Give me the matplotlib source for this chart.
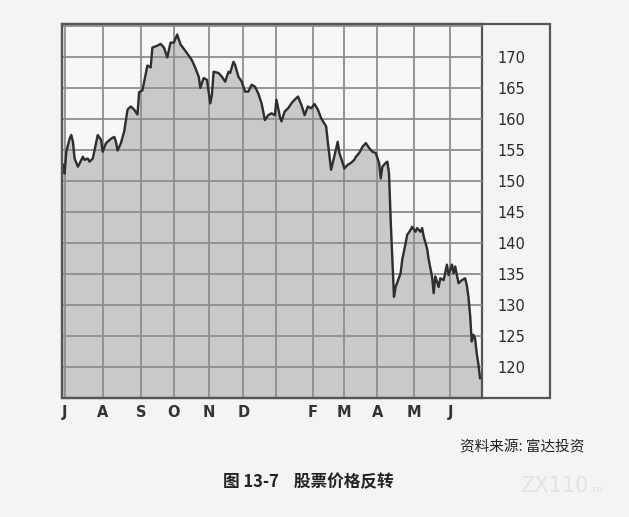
import matplotlib
matplotlib.use('Agg')
import matplotlib.pyplot as plt
from matplotlib.patches import Rectangle

plt.rcParams['font.family'] = ['Noto Sans CJK SC', 'DejaVu Sans']

# trading day index and closing price
days = [0, 1, 2, 4, 5, 6, 7, 9, 10, 12, 13, 15, 16, 18, 20, 21, 23, 24, 26, 29,
        31, 32, 33, 35, 37, 39, 41, 43, 45, 46, 48, 50, 51, 53, 54, 57, 59, 61, 63, 65,
        67, 69, 71, 73, 76, 78, 80, 82, 83, 85, 87, 88, 89, 90, 91, 94, 96, 98, 100, 101,
        103, 104, 106, 108, 110, 112, 114, 116, 118, 120, 122, 124, 126, 128, 129, 131, 132, 134, 136, 138,
        140, 142, 144, 146, 148, 150, 152, 154, 156, 159, 160, 162, 163, 164, 166, 167, 169, 170, 172, 174,
        176, 177, 179, 181, 183, 185, 187, 189, 191, 192, 193, 195, 196, 197, 198, 199, 200, 201, 204, 205,
        207, 208, 210, 211, 213, 214, 216, 217, 218, 220, 221, 223, 224, 225, 227, 228, 230, 232, 233, 235,
        236, 237, 239, 241, 243, 244, 245, 246, 247, 248, 249, 250, 251, 252]
prices = [152.6, 151.2, 154.7, 156.8, 157.4, 156.3, 153.6, 152.3, 152.8, 153.9, 153.4, 153.6, 153.1, 153.6, 156.1, 157.4, 156.6, 154.7, 156.1, 156.8,
          157.1, 156.3, 154.9, 156.1, 158.0, 161.5, 162.0, 161.5, 160.7, 164.3, 164.6, 167.3, 168.6, 168.3, 171.5, 171.8, 172.1, 171.5, 169.9, 172.3,
          172.3, 173.6, 172.0, 171.3, 170.2, 169.4, 168.2, 166.8, 165.0, 166.6, 166.3, 164.4, 162.5, 163.9, 167.6, 167.4, 166.8, 166.0, 167.6, 167.4,
          169.2, 168.7, 166.8, 166.0, 164.4, 164.4, 165.5, 165.2, 164.1, 162.5, 159.8, 160.6, 160.9, 160.6, 163.1, 160.4, 159.6, 161.2, 161.7, 162.5,
          163.1, 163.6, 162.3, 160.6, 162.0, 161.7, 162.4, 161.5, 160.1, 158.8, 156.3, 151.8, 152.9, 154.0, 156.3, 154.5, 152.9, 152.0, 152.6, 152.9,
          153.4, 153.9, 154.5, 155.5, 156.1, 155.3, 154.7, 154.5, 152.9, 150.4, 152.3, 152.9, 153.1, 151.2, 143.7, 137.3, 131.3, 132.9, 135.1, 137.3,
          139.9, 141.3, 142.1, 142.6, 141.8, 142.4, 141.8, 142.4, 141.0, 139.1, 137.3, 134.6, 131.9, 134.6, 132.9, 134.3, 134.0, 136.5, 134.8, 136.5,
          135.1, 136.2, 133.5, 134.0, 134.3, 133.2, 131.3, 128.4, 124.1, 125.2, 124.6, 122.2, 120.5, 118.2]

month_starts = [1, 24, 47, 67, 88, 109, 129, 151, 170, 190, 212, 234]
month_labels = ['J', 'A', 'S', 'O', 'N', 'D', '', 'F', 'M', 'A', 'M', 'J']
price_ticks = [120, 125, 130, 135, 140, 145, 150, 155, 160, 165, 170]

paper = '#f4f4f2'
W, H = 629, 517
fig = plt.figure(figsize=(W / 100, H / 100), dpi=100, facecolor=paper)

# plot box in pixels: x 62..482, y 24..398
ax = fig.add_axes([62 / W, 1 - 398 / H, 420 / W, 374 / H])
ax.set_facecolor('#f7f7f6')
ax.fill_between(days, prices, 100, color='#c9c9c9', zorder=1)
ax.plot(days, prices, color='#2e2e2e', lw=1.7, zorder=3)

ax.set_xlim(-0.6, 253.2)
ax.set_ylim(115, 175.3)
ax.set_xticks(month_starts)
ax.set_xticklabels(month_labels, fontsize=10.5, fontweight='bold', family='DejaVu Sans', color='#333333')
ax.set_yticks([115] + price_ticks + [175])
ax.set_yticklabels([''] + [str(p) for p in price_ticks] + [''], fontsize=10.5,
                   family='DejaVu Sans', color='#2a2a2a')
ax.yaxis.tick_right()
ax.tick_params(axis='both', length=0)
ax.tick_params(axis='y', pad=11)
ax.tick_params(axis='x', pad=5)
ax.grid(True, color='#8e8e8e', lw=1.3, zorder=2)
ax.set_axisbelow(False)
for s in ax.spines.values():
    s.set_color('#555555')
    s.set_linewidth(1.6)

# outer frame around plot and price panel
fig.patches.append(Rectangle((62 / W, 1 - 398 / H), 488 / W, 374 / H, transform=fig.transFigure,
                             fill=False, edgecolor='#555555', lw=1.6))

fig.text(460 / W, 1 - 447 / H, '资料来源: 富达投资', fontsize=10.5, color='#222222', va='center')
fig.text(223 / W, 1 - 482 / H, '图 13-7    股票价格反转', fontsize=12, fontweight='bold',
         color='#222222', va='center')
fig.text(520 / W, 1 - 486 / H, 'ZX110', fontsize=15, color='#e2e2e2', va='center', family='DejaVu Sans')
fig.text(590 / W, 1 - 490 / H, '.cn', fontsize=6, color='#dddddd', va='center', family='DejaVu Sans')

fig.savefig('out.png', dpi=100, facecolor=paper)
